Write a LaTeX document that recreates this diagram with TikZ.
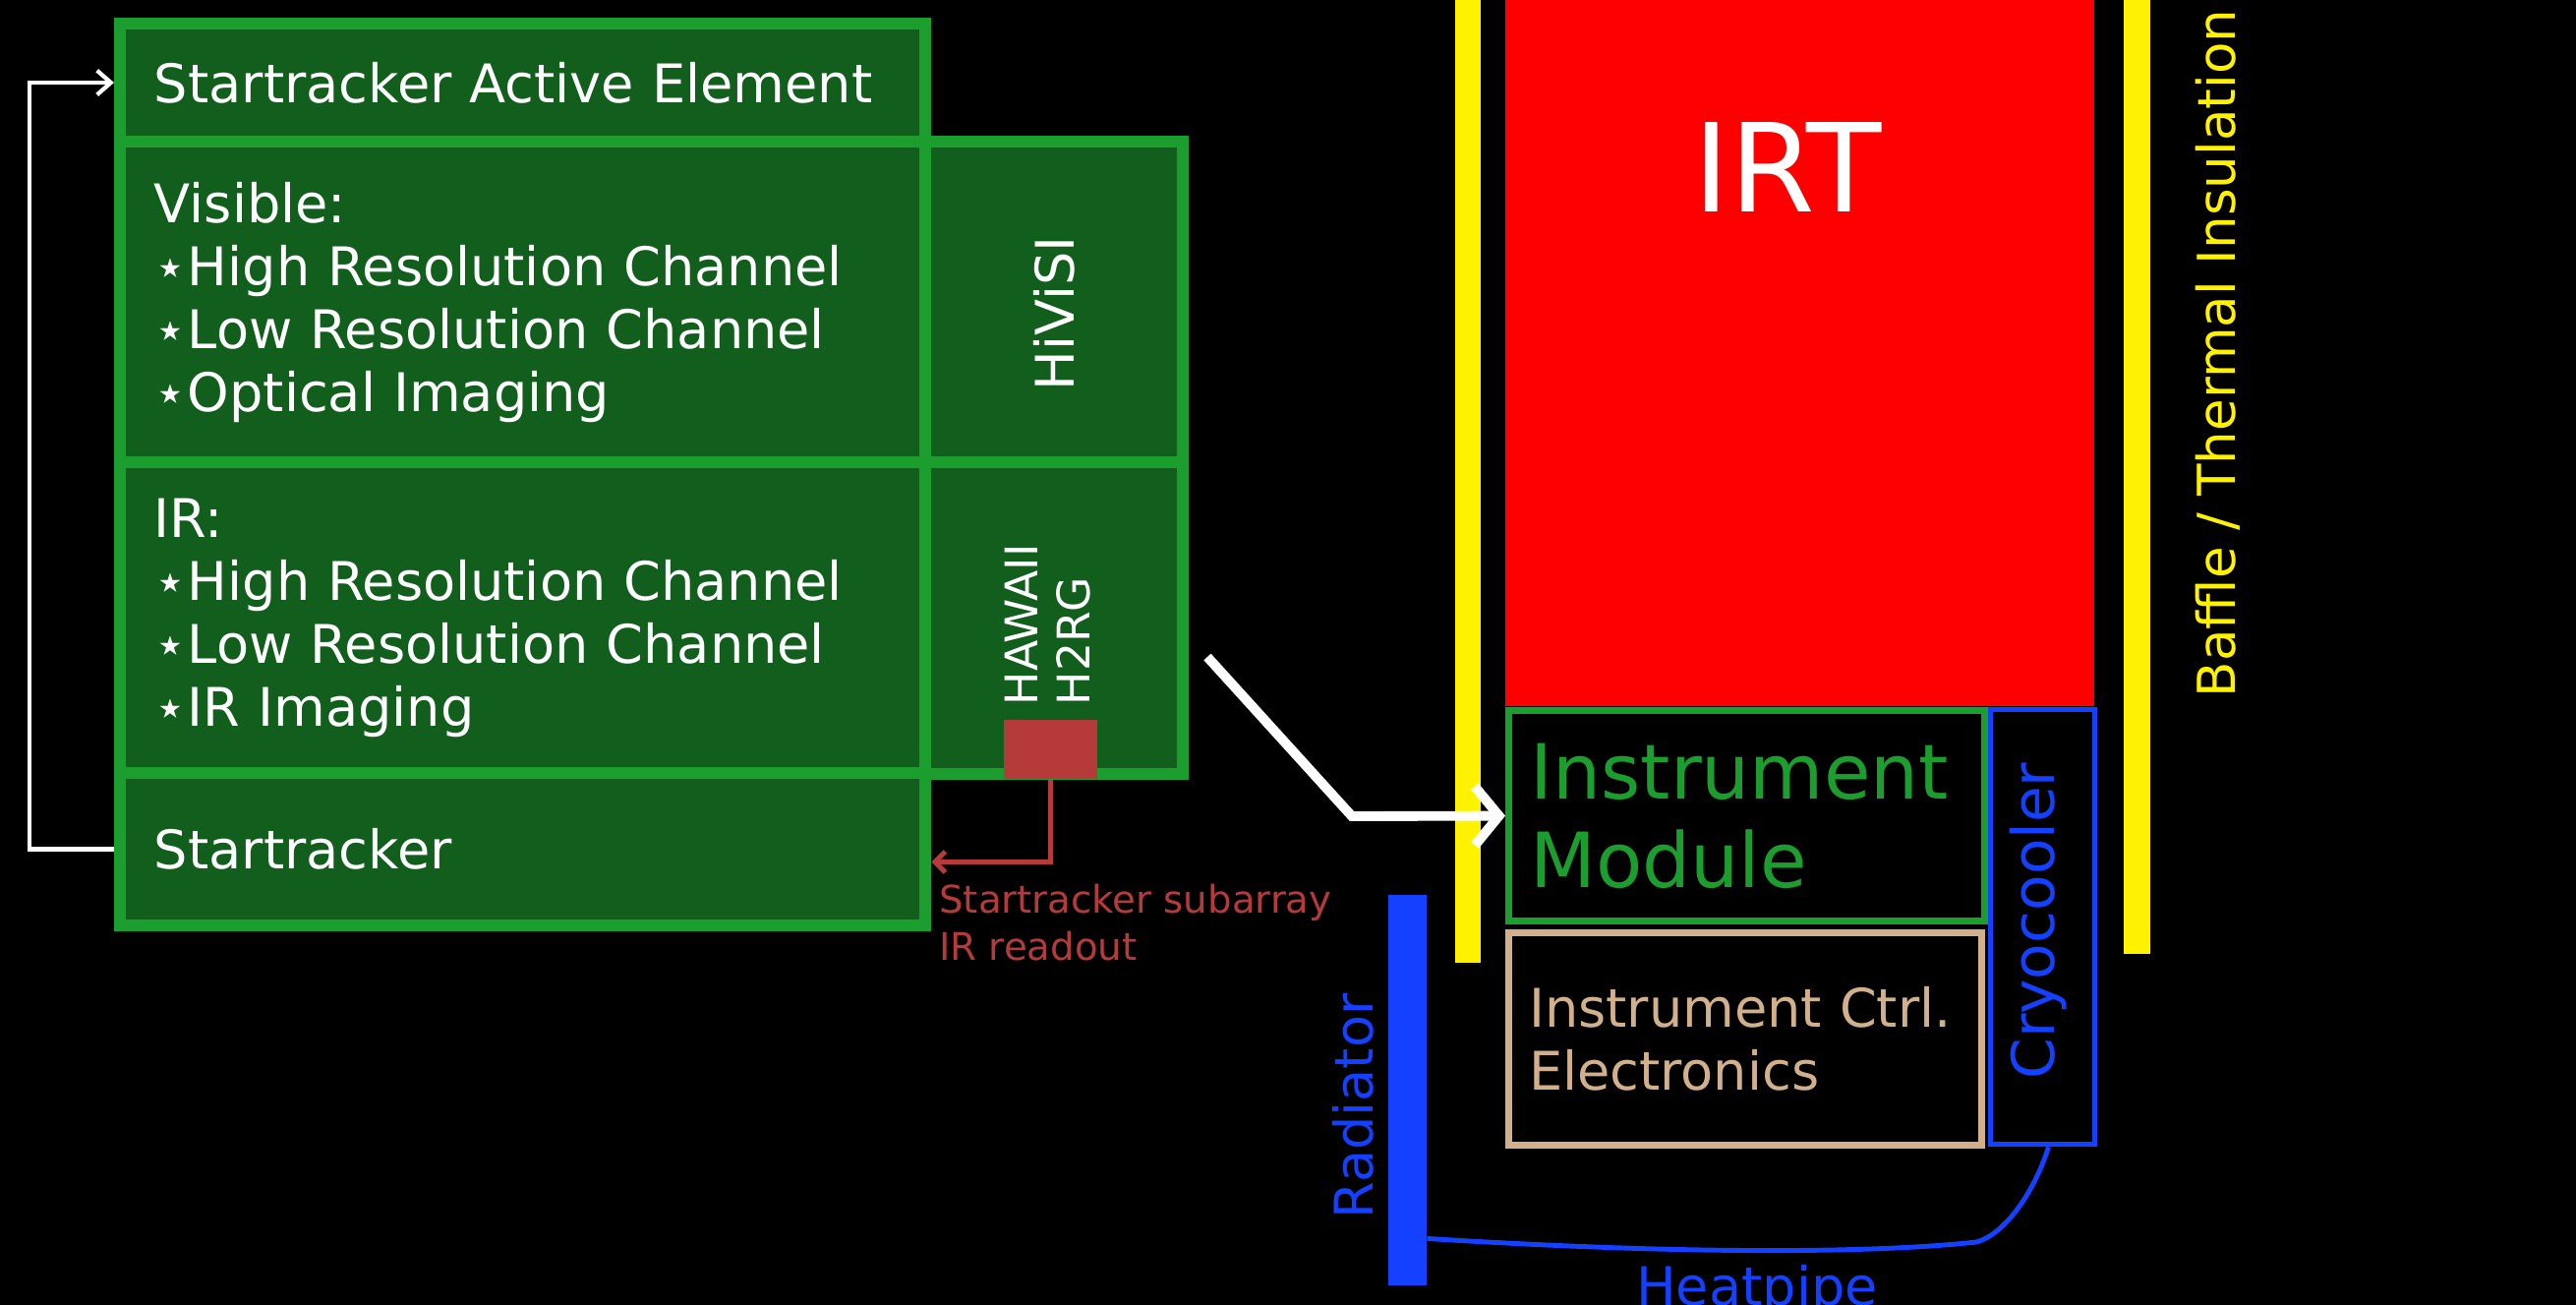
\documentclass[tikz,border=0pt]{standalone}
\usepackage{fontspec}
\setmainfont{DejaVu Sans}
\usetikzlibrary{arrows.meta,positioning}

\definecolor{cellgreen}{RGB}{17,94,29}
\definecolor{edgegreen}{RGB}{28,158,46}
\definecolor{readred}{RGB}{183,58,58}
\definecolor{ctrltan}{RGB}{210,176,140}
\definecolor{coolblue}{RGB}{20,64,255}

\tikzset{
  cell/.style={draw=edgegreen, fill=cellgreen, line width=3.4pt, text=white,
    align=left, inner xsep=0.35cm, anchor=north west},
  unitbox/.style={line width=2pt, align=left, anchor=north west},
  bodyfont/.style={font=\fontsize{15.4}{18.2}\selectfont},
  loopline/.style={white, line width=1.2pt, -{Straight Barb[length=4pt,width=7pt]}},
  bigarrow/.style={white, line width=2.8pt, -{Straight Barb[length=7pt,width=17pt]}},
  readout/.style={readred, line width=1.4pt, -{Straight Barb[length=3pt,width=6pt]}},
}

\begin{document}
\begin{tikzpicture}[x=0.01cm, y=-0.01cm, every node/.style={bodyfont}]
	\useasboundingbox (0,0) rectangle (2620,1327);
	\fill[black] (0,0) rectangle (2620,1327);

	% detector cells
	\node[cell, minimum width=8.19cm, minimum height=1.2cm, text width=7.49cm] (sae) at (116,18) {Startracker Active Element};
	\node[cell, minimum width=8.19cm, minimum height=3.26cm, text width=7.49cm] (vis) at (116,138) {Visible:\\ ⋆High Resolution Channel\\ ⋆Low Resolution Channel\\ ⋆Optical Imaging};
	\node[cell, minimum width=8.19cm, minimum height=3.16cm, text width=7.49cm] (ir) at (116,464) {IR:\\ ⋆High Resolution Channel\\ ⋆Low Resolution Channel\\ ⋆IR Imaging};
	\node[cell, minimum width=8.19cm, minimum height=1.55cm, text width=7.49cm] (star) at (116,780) {Startracker};
	\node[cell, minimum width=2.62cm, minimum height=3.26cm] (hivisi) at (935,138) {};
	\node[cell, minimum width=2.62cm, minimum height=3.17cm] (hawaii) at (935,464) {};
	\node[rotate=90, text=white] at ([yshift=-0.12cm]hivisi.center) {HiViSI};
	\node[rotate=90, text=white, anchor=west, align=left, inner sep=0pt, font=\fontsize{13}{15}\selectfont] (h2rg) at (1066,718) {HAWAII\\H2RG};
	\node[fill=readred, minimum width=0.95cm, minimum height=0.6cm, inner sep=0pt, anchor=south] (sub) at ([xshift=-0.04cm]hawaii.south) {};

	% readout and feedback
	\draw[readout] (sub.south) |- ([yshift=-0.13cm]star.east);
	\node[readred, anchor=west, align=left, font=\fontsize{11}{13.7}\selectfont] (sublbl) at (943,938) {Startracker subarray\\IR readout};
	\draw[loopline] (star.west) -- ++(-86,0) |- (sae.west);

	% telescope and baffles
	\fill[yellow] (1480,0) rectangle (1506,979);
	\fill[yellow] (2160,0) rectangle (2187,970);
	\fill[red] (1531,0) rectangle (2130,718);
	\node[text=white, font=\fontsize{35.5}{40}\selectfont] (irt) at (1818,170) {IRT};
	\node[rotate=90, yellow, anchor=base west, inner sep=0pt, font=\fontsize{15.1}{18}\selectfont] (baffle) at (2273,710) {Baffle / Thermal Insulation};

	% instrument units
	\node[unitbox, draw=edgegreen, text=edgegreen, minimum width=4.81cm, minimum height=2.14cm, text width=4.4cm, inner xsep=0.22cm, font=\fontsize{22}{25.5}\selectfont] (module) at (1531,719) {Instrument\\Module};
	\node[unitbox, draw=ctrltan, text=ctrltan, minimum width=4.81cm, minimum height=2.16cm, text width=4.4cm, inner xsep=0.19cm] (ctrl) at (1531,945) {Instrument Ctrl.\\Electronics};
	\node[unitbox, draw=coolblue, line width=1.4pt, minimum width=1.06cm, minimum height=4.42cm] (cryo) at (2022,719) {};
	\node[rotate=90, coolblue, font=\fontsize{17}{20}\selectfont] at ([xshift=-0.05cm, yshift=0.06cm]cryo.center) {Cryocooler};

	\coordinate (feed) at (1228,668);
	\draw[bigarrow] (feed) -- (1375,830) -- (module.west);

	% radiator and heatpipe
	\node[fill=coolblue, minimum width=0.39cm, minimum height=3.97cm, inner sep=0pt, anchor=north west] (rad) at (1411,909) {};
	\node[rotate=90, coolblue] at (1376,1125) {Radiator};
	\draw[coolblue, line width=1.4pt] ([yshift=-1.51cm]rad.east) .. controls (1700,1275) and (1900,1275) .. (2010,1263) .. controls (2040,1255) and (2070,1210) .. ([xshift=0.06cm]cryo.south);
	\node[coolblue, anchor=base] (pipe) at (1787,1327) {Heatpipe};
\end{tikzpicture}
\end{document}
